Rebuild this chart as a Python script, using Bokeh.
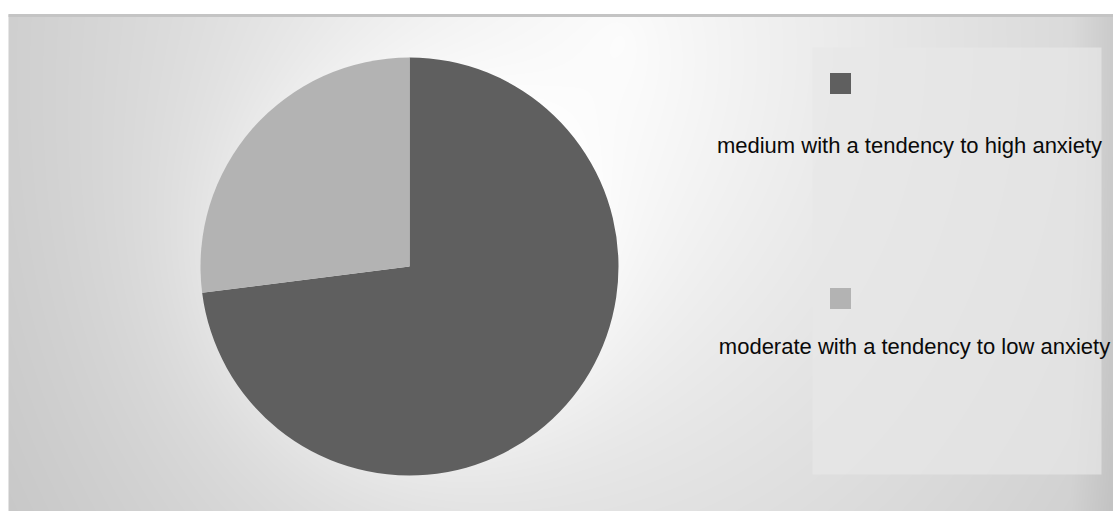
import numpy as np
from math import pi
from bokeh.plotting import figure
from bokeh.models import Range1d
from bokeh.core.properties import value
from bokeh.embed import file_html
from bokeh.resources import INLINE

# ---- data ----
categories = ["medium with a tendency to high anxiety",
              "moderate with a tendency to low anxiety"]
shares = [73, 27]
slice_colors = ["#5f5f5f", "#b3b3b3"]

W, H = 1113, 511
p = figure(width=W, height=H, output_backend="svg", toolbar_location=None,
           x_range=Range1d(0, W), y_range=Range1d(0, H),
           min_border=0, outline_line_color=None)
p.axis.visible = False
p.grid.visible = False
p.background_fill_color = "white"
p.border_fill_color = "white"

# ---- background gradient (decoration) ----
x0, top = 8, 14
bw, bh = W - x0, H - top
xs = np.arange(bw) + x0
ys_screen = H - (np.arange(bh) + 0.5)  # row 0 is at the bottom
X, Y = np.meshgrid(xs, ys_screen)
d = np.sqrt(((X - 620) / 1.0) ** 2 + ((Y - 40) / 1.3) ** 2)
g = 250 - 0.07 * d
cx_s, cy_s, R = 409, 266, 209
r = np.sqrt((X - cx_s) ** 2 + (Y - cy_s) ** 2)
g = g + 10 * np.exp(-np.clip(r - R, 0, None) / 70.0)
g = g - 12 * np.clip((X - 1070) / 40.0, 0, 1)
# legend panel
panel = (X >= 812) & (X <= 1100) & (Y >= 47) & (Y <= 474)
g = np.where(panel, np.maximum(g, 0) * 0.3 + 0.7 * 232, g)
g = np.clip(g, 0, 255).astype(np.uint8)
img = np.zeros((bh, bw), dtype=np.uint32)
view = img.view(dtype=np.uint8).reshape((bh, bw, 4))
view[:, :, 0] = g
view[:, :, 1] = g
view[:, :, 2] = g
view[:, :, 3] = 255
p.image_rgba(image=[img], x=x0, y=0, dw=bw, dh=bh)
# top frame line
p.segment(x0=[x0], y0=[H - 15], x1=[W], y1=[H - 15], line_color="#c4c4c4", line_width=3)

# ---- pie ----
total = sum(shares)
cum = np.cumsum([0] + shares) / total
starts = [pi / 2 - 2 * pi * cum[i] for i in range(len(shares))]
ends = [pi / 2 - 2 * pi * cum[i + 1] for i in range(len(shares))]
p.wedge(x=cx_s, y=H - cy_s, radius=R, start_angle=starts, end_angle=ends,
        direction="clock", fill_color=slice_colors, line_color=None)

# ---- legend ----
sq_y = [H - 83, H - 298]
txt_x = [909, 914]
txt_y = [H - 145, H - 346]
p.scatter(x=[840, 840], y=sq_y, marker="square", size=21,
          fill_color=slice_colors, line_color=None)
p.text(x=txt_x, y=txt_y, text=categories, text_align="center",
       text_baseline="middle", text_font=value("Liberation Sans"),
       text_font_size="22px", text_color="#0a0a0a")

open("out.html", "w").write(file_html(p, INLINE))
